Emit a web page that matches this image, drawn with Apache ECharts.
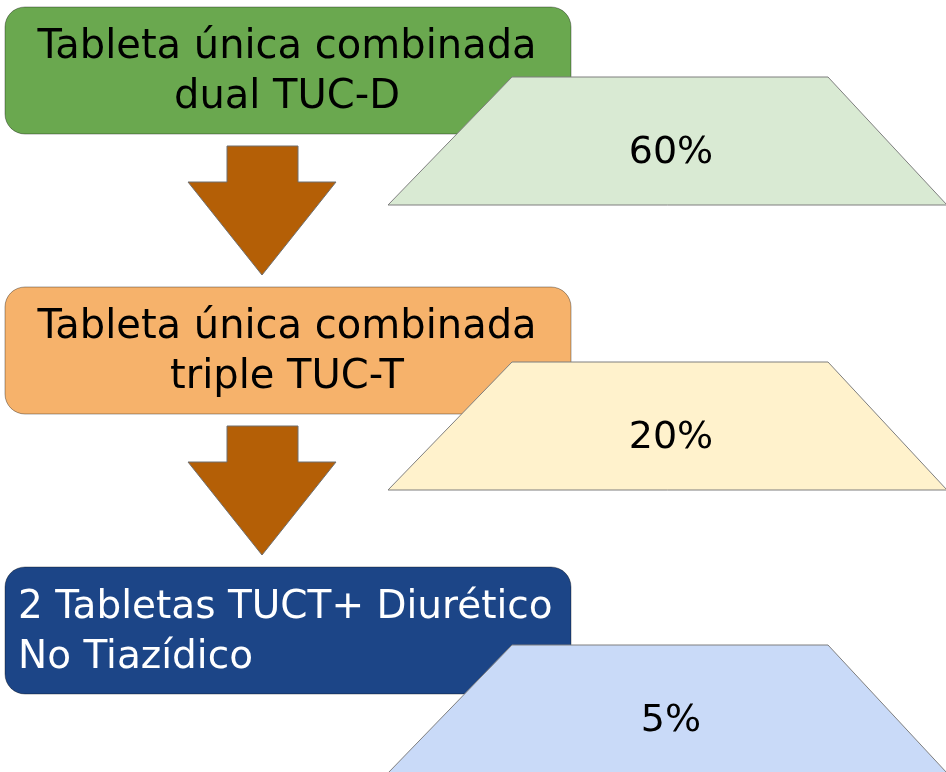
<!DOCTYPE html>
<html>
<head>
<meta charset="utf-8">
<title>TUC</title>
<script src="https://cdn.jsdelivr.net/npm/echarts@6/dist/echarts.min.js"></script>
<style>
    html, body { margin: 0; padding: 0; background: #fff; }
    #main { width: 946px; height: 772px; }
</style>
</head>
<body>
<div id="main"></div>
<script>
// pasos del esquema
var stepLabels = ['Tableta única combinada\ndual TUC-D', 'Tableta única combinada\ntriple TUC-T', '2 Tabletas TUCT+ Diurético\nNo Tiazídico'];
var stepPercents = [60, 20, 5];

// estilos
var boxColors = ['#6aa84f', '#f6b26b', '#1c4587'];
var boxTextColors = ['#000000', '#000000', '#ffffff'];
var boxTextAlign = ['center', 'center', 'left'];
var trapColors = ['#d9ead3', '#fff2cc', '#c9daf8'];
var trapOffset = [70, 75, 78];
var arrowColor = '#b45f06';
var fontFamily = '"DejaVu Sans", sans-serif';

var myChart = echarts.init(document.getElementById('main'));

function renderStep(params, api) {
    var i = api.value(0);
    var x0 = params.coordSys.x;
    var y0 = api.coord([0, i])[1];
    var ty = y0 + trapOffset[i];
    var children = [];

    // flecha hacia el siguiente paso
    if (i < stepLabels.length - 1) {
        children.push({
            type: 'polygon',
            shape: {
                points: [
                    [x0 + 227, y0 + 139], [x0 + 298, y0 + 139], [x0 + 298, y0 + 175],
                    [x0 + 336, y0 + 175], [x0 + 262, y0 + 268], [x0 + 188, y0 + 175],
                    [x0 + 227, y0 + 175]
                ]
            },
            style: { fill: arrowColor, stroke: '#6f6f6f', lineWidth: 1 }
        });
    }

    // caja
    children.push({
        type: 'rect',
        shape: { x: x0 + 5, y: y0, width: 566, height: 127, r: 20 },
        style: { fill: boxColors[i], stroke: 'rgba(0,0,0,0.35)', lineWidth: 1 }
    });
    children.push({
        type: 'text',
        style: {
            text: stepLabels[i],
            x: boxTextAlign[i] == 'left' ? x0 + 18 : x0 + 287,
            y: y0 + 66,
            align: boxTextAlign[i],
            verticalAlign: 'middle',
            fill: boxTextColors[i],
            fontSize: boxTextAlign[i] == 'left' ? 39 : 40,
            fontFamily: fontFamily,
            lineHeight: 50
        }
    });

    // trapecio con el porcentaje
    children.push({
        type: 'polygon',
        shape: {
            points: [
                [x0 + 512, ty], [x0 + 828, ty],
                [x0 + 947, ty + 128], [x0 + 388, ty + 128]
            ]
        },
        style: { fill: trapColors[i], stroke: '#7f7f7f', lineWidth: 1 }
    });
    children.push({
        type: 'text',
        style: {
            text: stepPercents[i] + '%',
            x: x0 + 671,
            y: ty + 76,
            align: 'center',
            verticalAlign: 'middle',
            fill: '#000000',
            fontSize: 38,
            fontFamily: fontFamily
        }
    });

    return { type: 'group', children: children };
}

var option = {
    animation: false,
    grid: { left: 0, right: 0, top: 7, bottom: 0 },
    xAxis: { type: 'value', min: 0, max: 946, show: false },
    // cada paso ocupa 280 px en vertical, el ultimo queda cortado
    yAxis: { type: 'value', inverse: true, min: 0, max: 765 / 280, show: false },
    series: [
        {
            type: 'custom',
            clip: false,
            renderItem: renderStep,
            data: stepPercents.map(function (p, idx) { return [idx, p]; }),
            encode: { x: 1, y: 0 }
        }
    ]
};
myChart.setOption(option);
</script>
</body>
</html>
